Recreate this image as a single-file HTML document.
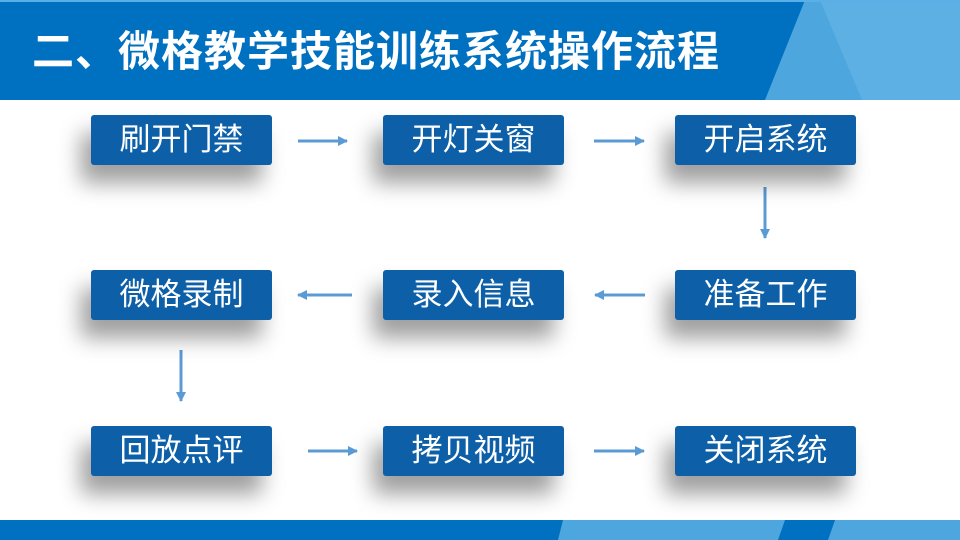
<!DOCTYPE html>
<html><head><meta charset="utf-8"><style>
body{margin:0;width:960px;height:540px;position:relative;overflow:hidden;background:#fff;font-family:"Liberation Sans","Noto Sans CJK SC",sans-serif}
.b{position:absolute;width:181px;height:50px;background:#0d60a8;border-radius:3px;color:#fff;font-size:31px;line-height:50px;text-align:center;box-shadow:-10px 18px 22px rgba(0,0,0,0.38)}
h1{position:absolute;left:32px;top:27px;margin:0;color:#fff;font-size:42px;line-height:50px;font-weight:bold;letter-spacing:1px;white-space:nowrap}
</style></head><body>
<svg width="960" height="540" style="position:absolute;left:0;top:0">
<rect x="0" y="0" width="960" height="100" fill="#4ea6de"/>
<polygon points="0,0 805,0 765,100 0,100" fill="#0070c0"/>
<polygon points="820,0 960,0 960,100 862,100" fill="#5cb0e3"/>
<rect x="0" y="0" width="960" height="2" fill="#5ab0e6"/>
<rect x="0" y="520" width="960" height="20" fill="#4ea6de"/>
<polygon points="0,520 563,520 558,540 0,540" fill="#0070c0"/>
<polygon points="785,520 835,520 828,540 778,540" fill="#0070c0"/>
<defs><marker id="a" markerWidth="10" markerHeight="10" refX="9" refY="5" orient="auto" markerUnits="userSpaceOnUse"><path d="M0,0 L10,5 L0,10z" fill="#5b9bd5"/></marker></defs>
<g stroke="#5b9bd5" stroke-width="3" marker-end="url(#a)">
<line x1="298" y1="141" x2="347" y2="141"/>
<line x1="594" y1="141" x2="644" y2="141"/>
<line x1="765" y1="187" x2="765" y2="238"/>
<line x1="352" y1="295" x2="298" y2="295"/>
<line x1="645" y1="295" x2="595" y2="295"/>
<line x1="181" y1="350" x2="181" y2="401"/>
<line x1="308" y1="451" x2="357" y2="451"/>
<line x1="594" y1="451" x2="644" y2="451"/>
</g>
</svg>
<h1>二、微格教学技能训练系统操作流程</h1>
<div class="b" style="left:91px;top:115px">刷开门禁</div>
<div class="b" style="left:383px;top:115px">开灯关窗</div>
<div class="b" style="left:675px;top:115px">开启系统</div>
<div class="b" style="left:91px;top:270px">微格录制</div>
<div class="b" style="left:383px;top:270px">录入信息</div>
<div class="b" style="left:675px;top:270px">准备工作</div>
<div class="b" style="left:91px;top:426px">回放点评</div>
<div class="b" style="left:383px;top:426px">拷贝视频</div>
<div class="b" style="left:675px;top:426px">关闭系统</div>
</body></html>
